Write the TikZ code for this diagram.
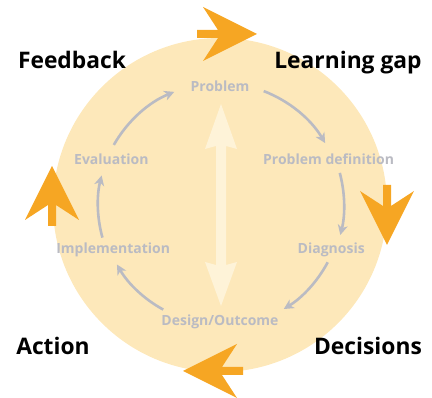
\documentclass[tikz,border=0pt]{standalone}
\usepackage{fontspec}
\setmainfont{Open Sans}
\usetikzlibrary{arrows.meta,calc}
\definecolor{disk}{RGB}{253,232,186}
\definecolor{cream}{RGB}{254,243,216}
\definecolor{orng}{RGB}{246,166,35}
\definecolor{gry}{RGB}{186,187,195}
\tikzset{
  bigarrow/.pic={\fill[orng] (0,0) -- (-54,27) -- (-39,4) -- (-60,4) -- (-60,-4) -- (-39,-4) -- (-54,-27) -- cycle;},
  lbl/.style={text=gry,font=\fontsize{14}{16}\selectfont\bfseries,inner sep=0pt},
  head/.style={text=black,font=\fontsize{22.8}{26}\selectfont\bfseries,inner sep=0pt,anchor=base},
  cyc/.style={draw=gry,line width=2.6pt,-{Stealth[length=10pt,width=10pt,inset=3pt]}},
}
\begin{document}
\begin{tikzpicture}[x=1pt,y=1pt]
\useasboundingbox (0,0) rectangle (432,398);
\coordinate (c) at (220,193);
\fill[disk] (c) circle[radius=167];
% central double arrow
\fill[cream] (221,294) -- (237,249) -- (226,252) -- (226,133) -- (237,136) -- (221,92) -- (205,136) -- (216,133) -- (216,252) -- (205,249) -- cycle;
% cycle labels
\node[lbl] (prob) at ($(c)+(90:119)$) {Problem};
\node[lbl] (pdef) at ($(c)+(23:118)$) {Problem definition};
\node[lbl] (diag) at ($(c)+(-22:120)$) {Diagnosis};
\node[lbl] (des) at ($(c)+(-90:117)$) {Design/Outcome};
\node[lbl] (impl) at ($(c)+(203:116)$) {Implementation};
\node[lbl] (eval) at ($(c)+(157:118)$) {Evaluation};
% cycle arrows
\draw[cyc] ($(c)+(150.5:122)$) arc[start angle=150.5,end angle=112,radius=122];
\draw[cyc] ($(c)+(69:122)$) arc[start angle=69,end angle=30.5,radius=122];
\draw[cyc] ($(c)+(15:124)$) arc[start angle=15,end angle=-14,radius=124];
\draw[cyc] ($(c)+(-28:122)$) arc[start angle=-28,end angle=-58.5,radius=122];
\draw[cyc] ($(c)+(-118.5:119)$) arc[start angle=-118.5,end angle=-150,radius=119];
\draw[cyc] ($(c)+(-164.5:122)$) arc[start angle=-164.5,end angle=-194,radius=122];
% orange arrows
\pic at (257,364) {bigarrow};
\pic[rotate=-90] at (387,153) {bigarrow};
\pic[rotate=180] at (183,27) {bigarrow};
\pic[rotate=90] at (52,232) {bigarrow};
% headings
\node[head] (fb) at (72,329) {Feedback};
\node[head] (lg) at (348,329) {Learning gap};
\node[head] (ac) at (53,43) {Action};
\node[head] (de) at (368,43) {Decisions};
\end{tikzpicture}
\end{document}
